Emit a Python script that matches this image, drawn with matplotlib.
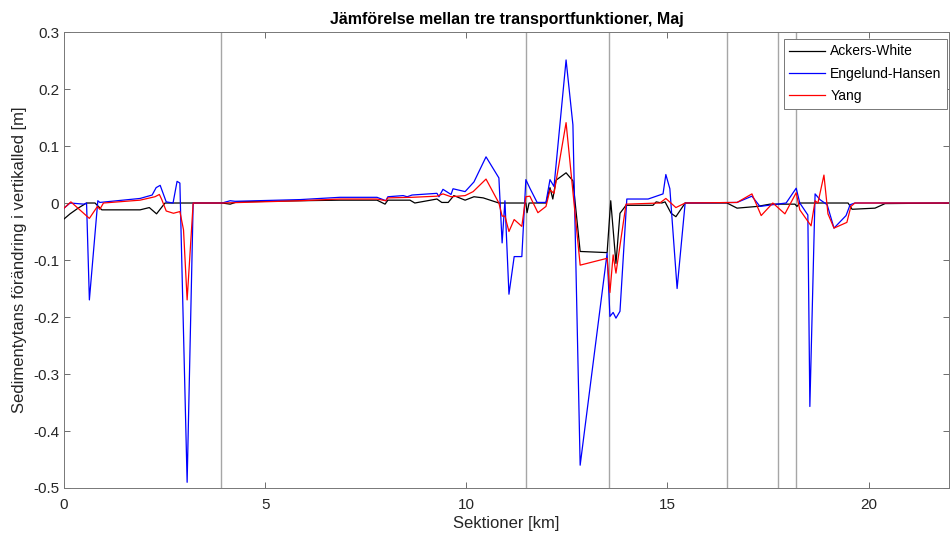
import numpy as np
import matplotlib
matplotlib.use("Agg")
import matplotlib.pyplot as plt

plt.rcParams['font.family'] = ['Liberation Sans', 'DejaVu Sans']
plt.rcParams['axes.unicode_minus'] = False

# sektioner [km] och förändring [m] för varje transportfunktion
ackers_x = [0.00, 0.15, 0.35, 0.56, 0.77, 0.94, 1.89, 2.12, 2.30, 2.51, 3.93, 4.13, 4.30,
            5.87, 6.86, 7.78, 7.98, 8.05, 8.60, 8.72, 9.27, 9.39, 9.55, 9.69, 9.97, 10.19,
            10.42, 10.81, 11.48, 11.51, 11.56, 11.98, 12.08, 12.15, 12.23, 12.48, 12.65,
            12.83, 13.50, 13.59, 13.72, 13.82, 13.97, 14.64, 14.72, 14.86, 14.94, 15.09,
            15.21, 15.44, 16.48, 16.73, 17.23, 17.55, 18.17, 18.22, 18.29, 19.49, 19.59,
            20.16, 20.41, 22.0]
ackers_y = [-0.028, -0.019, -0.009, 0.0, 0.0, -0.012, -0.012, -0.008, -0.019, 0.0, 0.0, -0.002, 0.002,
            0.004, 0.005, 0.005, -0.002, 0.005, 0.005, 0.0, 0.007, 0.001, 0.001, 0.013, 0.005, 0.011,
            0.009, 0.0, 0.0, -0.017, 0.0, 0.0, 0.027, 0.007, 0.04, 0.053, 0.039,
            -0.085, -0.087, 0.004, -0.106, -0.018, -0.004, -0.004, 0.002, 0.0, 0.002, -0.018,
            -0.024, 0.0, 0.0, -0.009, -0.006, -0.002, -0.002, -0.006, 0.0, 0.0, -0.011,
            -0.009, -0.001, 0.0]

engelund_x = [0.00, 0.15, 0.50, 0.56, 0.63, 0.84, 0.89, 1.89, 2.19, 2.29, 2.39, 2.54, 2.71,
              2.81, 2.88, 3.06, 3.21, 3.93, 4.13, 4.25, 5.87, 6.86, 7.78, 8.00, 8.05, 8.43,
              8.53, 8.65, 9.27, 9.32, 9.42, 9.62, 9.67, 9.97, 10.19, 10.49, 10.81, 10.89,
              10.96, 11.06, 11.19, 11.38, 11.48, 11.58, 11.76, 11.98, 12.08, 12.18, 12.48,
              12.65, 12.83, 13.50, 13.57, 13.65, 13.72, 13.82, 13.99, 14.52, 14.89, 14.96,
              15.06, 15.24, 15.44, 16.73, 17.10, 17.30, 17.72, 17.95, 18.20, 18.29, 18.49,
              18.54, 18.67, 18.79, 18.97, 19.14, 19.44, 19.54, 19.66, 22.0]
engelund_y = [-0.009, 0.0, -0.002, 0.0, -0.17, 0.004, 0.001, 0.008, 0.014, 0.027, 0.031, 0.002, 0.0,
              0.038, 0.035, -0.49, 0.0, 0.0, 0.004, 0.003, 0.006, 0.01, 0.01, 0.004, 0.011, 0.013,
              0.011, 0.014, 0.017, 0.011, 0.024, 0.015, 0.025, 0.02, 0.037, 0.081, 0.044, -0.07,
              0.004, -0.16, -0.094, -0.094, 0.041, 0.026, 0.001, 0.001, 0.041, 0.029, 0.251,
              0.137, -0.46, -0.088, -0.199, -0.192, -0.202, -0.19, 0.007, 0.007, 0.016, 0.05,
              0.025, -0.15, 0.0, 0.001, 0.012, -0.006, -0.002, 0.0, 0.026, 0.0, -0.021,
              -0.357, 0.016, 0.006, -0.003, -0.044, -0.022, -0.003, 0.0, 0.0]

yang_x = [0.00, 0.17, 0.63, 0.83, 0.89, 0.98, 1.89, 2.26, 2.37, 2.43, 2.54, 2.72, 2.88, 2.97,
          3.06, 3.21, 3.93, 5.87, 6.86, 7.78, 8.00, 8.05, 8.65, 9.27, 9.42, 9.62, 9.97, 10.17,
          10.49, 10.81, 10.89, 10.96, 11.06, 11.19, 11.38, 11.48, 11.58, 11.78, 11.98, 12.08,
          12.18, 12.48, 12.83, 13.50, 13.57, 13.65, 13.72, 13.97, 14.81, 14.96, 15.21, 15.44,
          16.73, 17.10, 17.33, 17.62, 17.92, 18.20, 18.29, 18.57, 18.67, 18.74, 18.89, 18.99,
          19.14, 19.46, 19.56, 19.66, 22.0]
yang_y = [-0.009, 0.002, -0.027, -0.006, -0.011, 0.0, 0.005, 0.011, 0.015, 0.006, -0.014, -0.018, -0.015, -0.047,
          -0.17, 0.0, 0.0, 0.004, 0.007, 0.007, 0.004, 0.009, 0.01, 0.012, 0.016, 0.011, 0.013, 0.02,
          0.042, 0.0, -0.023, -0.023, -0.05, -0.029, -0.041, 0.011, 0.012, -0.017, -0.006, 0.023,
          0.017, 0.141, -0.109, -0.097, -0.157, -0.091, -0.123, -0.002, 0.0, 0.008, -0.008, 0.0,
          0.001, 0.016, -0.022, 0.0, -0.019, 0.018, -0.012, -0.04, 0.004, 0.0, 0.049, -0.019,
          -0.044, -0.034, -0.006, 0.0, 0.0]

# vertikala markeringar [km]
markers_km = [3.9, 11.48, 13.55, 16.47, 17.75, 18.19]

fig = plt.figure(figsize=(9.5, 5.4), dpi=100)
ax = fig.add_axes([0.0674, 0.0963, 0.9316, 0.8444])

for xm in markers_km:
    ax.axvline(xm, color='#a6a6a6', lw=1.0, zorder=1)

ax.plot(ackers_x, ackers_y, color='black', lw=0.9, label='Ackers-White', zorder=3)
ax.plot(engelund_x, engelund_y, color='blue', lw=0.9, label='Engelund-Hansen', zorder=3)
ax.plot(yang_x, yang_y, color='red', lw=0.9, label='Yang', zorder=3)

ax.set_xlim(0, 22)
ax.set_ylim(-0.5, 0.3)
ax.set_xticks([0, 5, 10, 15, 20])
ax.set_yticks(np.round(np.arange(-0.5, 0.31, 0.1), 1))
ax.set_yticklabels(['-0.5', '-0.4', '-0.3', '-0.2', '-0.1', '0', '0.1', '0.2', '0.3'])

ax.tick_params(direction='in', top=True, right=True, length=4, width=0.6,
               color='#555555', labelcolor='#262626', labelsize=11)
ax.tick_params(axis='x', pad=7)
for s in ax.spines.values():
    s.set_color('#777777')
    s.set_linewidth(0.7)

ax.set_xlabel('Sektioner [km]', fontsize=12, color='#262626', labelpad=3)
ax.set_ylabel('Sedimentytans förändring i vertikalled [m]', fontsize=12, color='#262626', labelpad=4)
ax.set_title('Jämförelse mellan tre transportfunktioner, Maj', fontsize=11.5,
             fontweight='bold', color='black', pad=6)

leg = ax.legend(loc='upper right', bbox_to_anchor=(0.998, 0.985), fontsize=10, fancybox=False,
                framealpha=1, edgecolor='#777777', borderaxespad=0.0, handlelength=2.6,
                handletextpad=0.35, borderpad=0.4, labelspacing=0.6)
leg.get_frame().set_linewidth(0.7)

fig.savefig('out.png', dpi=100)
